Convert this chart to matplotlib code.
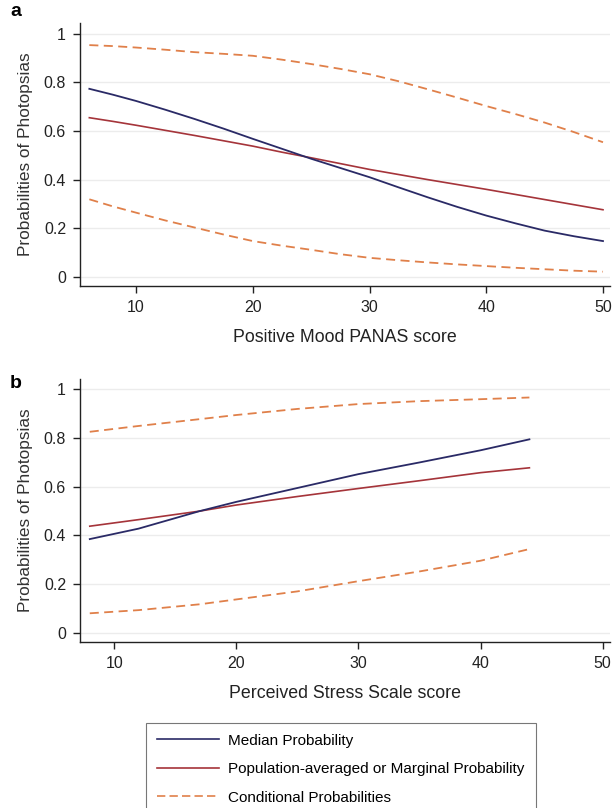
import matplotlib
matplotlib.use("Agg")
import matplotlib.pyplot as plt
from matplotlib.lines import Line2D

plt.rcParams['font.family'] = ['Liberation Sans', 'DejaVu Sans']

# Panel a: Positive Mood PANAS score
xa = [6, 8, 10, 12.5, 15, 17.5, 20, 22.5, 25, 27.5, 30, 32.5, 35, 37.5, 40, 42.5, 45, 47.5, 50]
a_median = [0.774, 0.75, 0.724, 0.688, 0.65, 0.61, 0.568, 0.527, 0.486, 0.448, 0.41, 0.368, 0.327, 0.288, 0.252, 0.22, 0.19, 0.167, 0.147]
a_marginal = [0.655, 0.64, 0.624, 0.603, 0.582, 0.56, 0.538, 0.513, 0.49, 0.466, 0.442, 0.421, 0.40, 0.38, 0.36, 0.339, 0.318, 0.297, 0.276]
a_upper = [0.954, 0.95, 0.944, 0.935, 0.925, 0.918, 0.91, 0.894, 0.876, 0.856, 0.834, 0.805, 0.772, 0.738, 0.703, 0.67, 0.635, 0.596, 0.554]
a_lower = [0.319, 0.29, 0.264, 0.232, 0.203, 0.174, 0.147, 0.128, 0.111, 0.093, 0.078, 0.068, 0.059, 0.051, 0.044, 0.037, 0.031, 0.025, 0.021]

# Panel b: Perceived Stress Scale score
xb = [8, 12, 17, 20, 25, 30, 35, 40, 44]
b_median = [0.385, 0.428, 0.50, 0.538, 0.595, 0.652, 0.70, 0.75, 0.795]
b_marginal = [0.438, 0.465, 0.50, 0.525, 0.56, 0.593, 0.625, 0.658, 0.678]
b_upper = [0.826, 0.85, 0.878, 0.895, 0.92, 0.94, 0.952, 0.96, 0.967]
b_lower = [0.08, 0.093, 0.117, 0.137, 0.17, 0.212, 0.252, 0.296, 0.344]

yticks = [0, 0.2, 0.4, 0.6, 0.8, 1]
ytick_labels = ['0', '0.2', '0.4', '0.6', '0.8', '1']
xticks = [10, 20, 30, 40, 50]

legend_labels = ['Median Probability',
                 'Population-averaged or Marginal Probability',
                 'Conditional Probabilities']

C_MED = '#2a2a66'
C_MAR = '#a5343a'
C_CON = '#e0804a'

W, H = 612, 808
fig = plt.figure(figsize=(W / 100, H / 100), dpi=100)


def fr(l, t, r, b):
    return [l / W, 1 - b / H, (r - l) / W, (b - t) / H]


def style(ax, xlim, ylim, xlabel):
    ax.set_xlim(*xlim)
    ax.set_ylim(*ylim)
    ax.set_yticks(yticks)
    ax.set_yticklabels(ytick_labels)
    ax.set_xticks(xticks)
    for s in ['top', 'right']:
        ax.spines[s].set_visible(False)
    for s in ['left', 'bottom']:
        ax.spines[s].set_color('#222222')
        ax.spines[s].set_linewidth(1.0)
    ax.tick_params(direction='out', length=5, width=1, colors='#222222',
                   labelsize=11.5)
    ax.tick_params(axis='x', pad=5)
    ax.tick_params(axis='y', pad=5)
    ax.grid(axis='y', color='#ececec', linewidth=1)
    ax.set_axisbelow(True)
    ax.set_ylabel('Probabilities of Photopsias', fontsize=12.4, color='#333333', labelpad=8)
    ax.set_xlabel(xlabel, fontsize=12.8, color='#222222', labelpad=10)


axa = fig.add_axes(fr(80, 23, 610, 286))
axa.plot(xa, a_upper, color=C_CON, lw=1.3, ls=(0, (5, 3)))
axa.plot(xa, a_lower, color=C_CON, lw=1.3, ls=(0, (5, 3)))
axa.plot(xa, a_marginal, color=C_MAR, lw=1.2)
axa.plot(xa, a_median, color=C_MED, lw=1.3)
style(axa, (5.2, 50.6), (-0.038, 1.045), 'Positive Mood PANAS score')

axb = fig.add_axes(fr(80, 379, 610, 642))
axb.plot(xb, b_upper, color=C_CON, lw=1.3, ls=(0, (5, 3)))
axb.plot(xb, b_lower, color=C_CON, lw=1.3, ls=(0, (5, 3)))
axb.plot(xb, b_marginal, color=C_MAR, lw=1.2)
axb.plot(xb, b_median, color=C_MED, lw=1.3)
style(axb, (7.2, 50.6), (-0.038, 1.043), 'Perceived Stress Scale score')

fig.text(10 / W, 1 - 12 / H, 'a', fontsize=14, fontweight='bold', va='center', ha='left')
fig.text(10 / W, 1 - 383 / H, 'b', fontsize=14, fontweight='bold', va='center', ha='left')

handles = [Line2D([], [], color=C_MED, lw=1.2),
           Line2D([], [], color=C_MAR, lw=1.2),
           Line2D([], [], color=C_CON, lw=1.2, ls=(0, (5, 2.5)))]
leg = fig.legend(handles, legend_labels, loc='upper left',
                 bbox_to_anchor=(146 / W, 1 - 723 / H), frameon=True,
                 fontsize=11.0, handlelength=4.1, handletextpad=0.6,
                 borderpad=0.7, labelspacing=0.95, borderaxespad=0,
                 fancybox=False)
leg.get_frame().set_edgecolor('#555555')
leg.get_frame().set_linewidth(0.8)

fig.savefig('out.png', dpi=100)
